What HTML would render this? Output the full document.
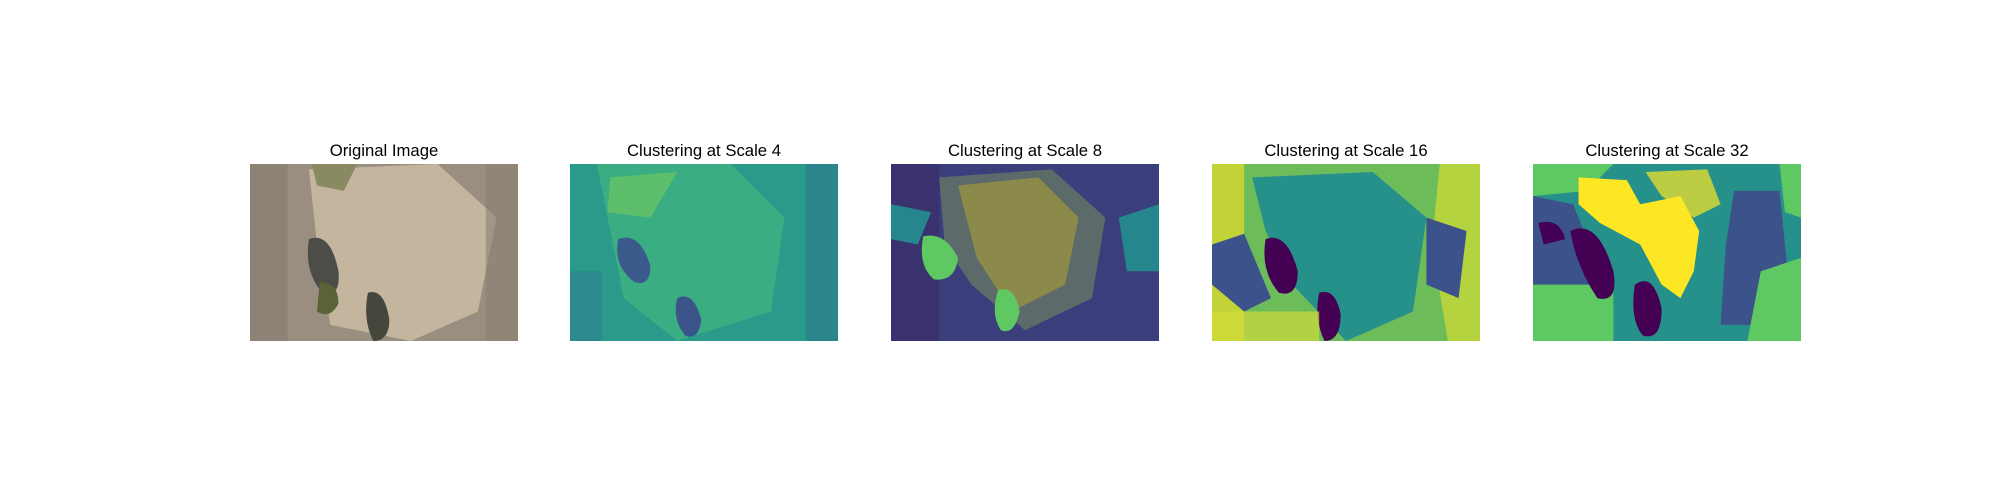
<!DOCTYPE html>
<html><head><meta charset="utf-8">
<style>
body{margin:0;width:2000px;height:500px;background:#fff;position:relative;overflow:hidden;font-family:"Liberation Sans","DejaVu Sans",sans-serif}
.t{position:absolute;top:141px;width:268px;text-align:center;font-size:16.7px;color:#000}
svg.p{position:absolute;top:164px;width:268px;height:177px}
</style></head><body>
<div class="t" style="left:250px">Original Image</div>
<div class="t" style="left:570px">Clustering at Scale 4</div>
<div class="t" style="left:891px">Clustering at Scale 8</div>
<div class="t" style="left:1212px">Clustering at Scale 16</div>
<div class="t" style="left:1533px">Clustering at Scale 32</div>

<svg class="p" style="left:250px" viewBox="0 0 100 66" preserveAspectRatio="none">
<rect width="100" height="66" fill="#9a8e80"/>
<path d="M22 2 L70 0 L92 20 L85 55 L60 66 L30 60 L25 30 Z" fill="#c4b69e"/>
<path d="M23 0 L40 0 L35 10 L25 8Z" fill="#8a8a62"/>
<path d="M22 28 Q30 25 33 40 Q34 50 27 48 Q20 40 22 28Z" fill="#4c4c48"/>
<path d="M44 48 Q50 46 52 58 Q52 66 46 66 Q42 58 44 48Z" fill="#45463c"/>
<path d="M26 44 Q33 44 33 52 Q30 58 25 55Z" fill="#5a6238"/>
<rect x="0" y="0" width="14" height="66" fill="#857a70" opacity=".6"/>
<rect x="88" y="0" width="12" height="66" fill="#8a7e72" opacity=".6"/>
</svg>

<svg class="p" style="left:570px" viewBox="0 0 100 66" preserveAspectRatio="none">
<rect width="100" height="66" fill="#2a9a8a"/>
<path d="M10 0 L60 0 L80 20 L75 55 L40 66 L20 50 Z" fill="#3fb27f" opacity=".8"/>
<path d="M15 5 L40 3 L30 20 L14 18Z" fill="#74cc5c" opacity=".6"/>
<path d="M18 28 Q26 25 30 38 Q30 46 24 44 Q16 38 18 28Z" fill="#3b5a8c"/>
<path d="M40 50 Q46 47 49 58 Q48 66 43 64 Q38 58 40 50Z" fill="#3b558b"/>
<rect x="0" y="40" width="12" height="26" fill="#2e7e8e" opacity=".6"/>
<rect x="88" y="0" width="12" height="66" fill="#2e6e8e" opacity=".5"/>
</svg>

<svg class="p" style="left:891px" viewBox="0 0 100 66" preserveAspectRatio="none">
<rect width="100" height="66" fill="#3a3f7c"/>
<path d="M18 5 L60 2 L80 20 L75 50 L50 62 L30 45 L20 30Z" fill="#5d6a6a"/>
<path d="M25 8 L55 5 L70 20 L65 45 L45 55 L32 35Z" fill="#8b8a4a"/>
<rect x="0" y="0" width="18" height="66" fill="#3a2a66" opacity=".6"/>
<path d="M0 15 L15 18 L10 30 L0 28Z" fill="#25868e"/>
<path d="M12 27 Q20 25 25 35 Q24 44 16 43 Q10 38 12 27Z" fill="#5ec962"/>
<path d="M40 47 Q46 45 48 55 Q46 64 41 62 Q37 56 40 47Z" fill="#5ec962"/>
<path d="M85 20 L100 15 L100 40 L88 40Z" fill="#25868e"/>
</svg>

<svg class="p" style="left:1212px" viewBox="0 0 100 66" preserveAspectRatio="none">
<rect width="100" height="66" fill="#6cbc5a"/>
<path d="M15 5 L60 3 L80 20 L75 55 L50 66 L30 45 L20 25Z" fill="#26908a"/>
<rect x="0" y="0" width="12" height="66" fill="#d8d830" opacity=".8"/>
<path d="M0 30 L12 26 L22 50 L12 55 L0 45Z" fill="#3b528b"/>
<path d="M20 28 Q28 25 32 40 Q32 50 25 48 Q18 40 20 28Z" fill="#440154"/>
<path d="M40 48 Q46 46 48 56 Q48 66 42 66 Q38 58 40 48Z" fill="#440154"/>
<path d="M85 0 L100 0 L100 66 L88 66 L82 30Z" fill="#c8d838" opacity=".8"/>
<path d="M80 20 L95 25 L92 50 L80 45Z" fill="#3b528b"/>
<rect x="0" y="55" width="40" height="11" fill="#d0dc3a" opacity=".7"/>
</svg>

<svg class="p" style="left:1533px" viewBox="0 0 100 66" preserveAspectRatio="none">
<rect width="100" height="66" fill="#26908a"/>
<path d="M0 0 L30 0 L20 10 L0 12Z" fill="#5ec962"/>
<path d="M0 12 L15 15 L25 40 L20 55 L0 50Z" fill="#3b528b"/>
<path d="M0 45 L30 45 L30 66 L0 66Z" fill="#5ec962"/>
<path d="M17 5 L35 6 L40 15 L55 12 L62 25 L60 40 L55 50 L48 45 L40 30 L25 22 L17 15Z" fill="#fde725"/>
<path d="M42 3 L65 2 L70 15 L60 20 L48 12Z" fill="#fde725" opacity=".7"/>
<path d="M2 22 Q10 20 12 28 L4 30Z" fill="#440154"/>
<path d="M14 25 Q24 20 30 40 Q32 52 24 50 Q16 38 14 25Z" fill="#440154"/>
<path d="M38 45 Q45 40 48 54 Q48 66 41 64 Q36 58 38 45Z" fill="#440154"/>
<path d="M75 10 L92 10 L95 40 L85 60 L70 60 L72 30Z" fill="#3b528b"/>
<path d="M85 40 L100 35 L100 66 L80 66Z" fill="#5ec962"/>
<path d="M92 0 L100 0 L100 20 L94 18Z" fill="#5ec962"/>
</svg>
</body></html>
